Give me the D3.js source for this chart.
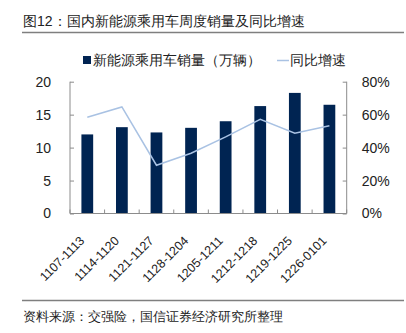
<!DOCTYPE html>
<html><head><meta charset="utf-8">
<script src="https://cdn.jsdelivr.net/npm/d3@7"></script>
<style>body{margin:0;background:#fff}svg{display:block}text{font-family:"Liberation Sans",Arial,sans-serif}</style>
</head><body><svg id="c" width="406" height="333"></svg>
<script>
const categories=["1107-1113","1114-1120","1121-1127","1128-1204","1205-1211","1212-1218","1219-1225","1226-0101"];
const sales=[12.0,13.1,12.3,13.0,14.0,16.3,18.3,16.5];
const yoy=[58.4,64.7,29.3,36.6,46.5,57.2,48.7,53.3];
const leftTicks=[0,5,10,15,20];
const rightTicks=[0,20,40,60,80];
const titleText="图12：国内新能源乘用车周度销量及同比增速";
const sourceText="资料来源：交强险，国信证券经济研究所整理";
const legendBar="新能源乘用车销量（万辆）";
const legendLine="同比增速";

const svg=d3.select("#c");
const cjk='"Noto Sans CJK SC","Liberation Sans",sans-serif';
const L=70,R=346.7,T=81.7,B=213.5;
const x=d3.scaleBand().domain(categories).range([L,R]).paddingInner(0.66).paddingOuter(0.33);
const y=d3.scaleLinear().domain([0,20]).range([B,T]);
const y2=d3.scaleLinear().domain([0,80]).range([B,T]);
const axisCol="#8c8c8c";

// title
svg.append("text").attr("x",23).attr("y",26).attr("font-size",14).attr("font-family",cjk).attr("fill","#222").text(titleText);
svg.append("line").attr("x1",22).attr("x2",404).attr("y1",32.5).attr("y2",32.5).attr("stroke","#7f7f7f").attr("stroke-width",1.3);
// source
svg.append("line").attr("x1",22).attr("x2",404).attr("y1",300.5).attr("y2",300.5).attr("stroke","#7f7f7f").attr("stroke-width",1.3);
svg.append("text").attr("x",23).attr("y",321).attr("font-size",12.8).attr("font-family",cjk).attr("fill","#222").text(sourceText);

// legend
svg.append("rect").attr("x",83).attr("y",56).attr("width",8).attr("height",8).attr("fill","#002452");
svg.append("text").attr("x",93).attr("y",65).attr("font-size",13.5).attr("font-family",cjk).attr("fill","#222").text(legendBar);
svg.append("line").attr("x1",277).attr("x2",289).attr("y1",60.5).attr("y2",60.5).attr("stroke","#a9c2e3").attr("stroke-width",1.5);
svg.append("text").attr("x",290).attr("y",65).attr("font-size",13.5).attr("font-family",cjk).attr("fill","#222").text(legendLine);

// bars
svg.append("g").selectAll("rect").data(categories).join("rect")
  .attr("x",d=>x(d)).attr("width",x.bandwidth())
  .attr("y",(d,i)=>y(sales[i])).attr("height",(d,i)=>B-y(sales[i]))
  .attr("fill","#002452");

// line
const line=d3.line().x((d,i)=>x(categories[i])+x.bandwidth()/2).y(d=>y2(d));
svg.append("path").datum(yoy).attr("d",line).attr("fill","none").attr("stroke","#a9c2e3").attr("stroke-width",1.5);

// left axis
const ga=svg.append("g").attr("transform",`translate(${L},0)`)
  .call(d3.axisLeft(y).tickValues(leftTicks).tickSize(-4).tickPadding(19).tickFormat(d3.format("d")));
ga.select(".domain").attr("stroke",axisCol).attr("d",`M-0,${T}V${B}`);
ga.selectAll(".tick line").attr("stroke",axisCol);
ga.selectAll("text").attr("font-size",14).attr("fill","#222");

// right axis
const gr=svg.append("g").attr("transform",`translate(${R},0)`)
  .call(d3.axisRight(y2).tickValues(rightTicks).tickSize(-4).tickPadding(15).tickFormat(d=>d+"%"));
gr.select(".domain").attr("stroke",axisCol).attr("d",`M0,${T}V${B}`);
gr.selectAll(".tick line").attr("stroke",axisCol);
gr.selectAll("text").attr("font-size",14).attr("fill","#222");

// x axis
const step=x.step();
const gx=svg.append("g").attr("transform",`translate(0,${B})`);
gx.append("line").attr("x1",L).attr("x2",R).attr("stroke",axisCol);
gx.selectAll("line.t").data(d3.range(categories.length+1)).join("line").attr("class","t")
  .attr("x1",i=>L+i*step).attr("x2",i=>L+i*step).attr("y1",0).attr("y2",-4).attr("stroke",axisCol);
gx.selectAll("text").data(categories).join("text")
  .attr("transform",d=>`translate(${x(d)+x.bandwidth()/2-2},${28}) rotate(-45)`)
  .attr("text-anchor","end").attr("font-size",12.5).attr("fill","#222").text(d=>d);
</script></body></html>
